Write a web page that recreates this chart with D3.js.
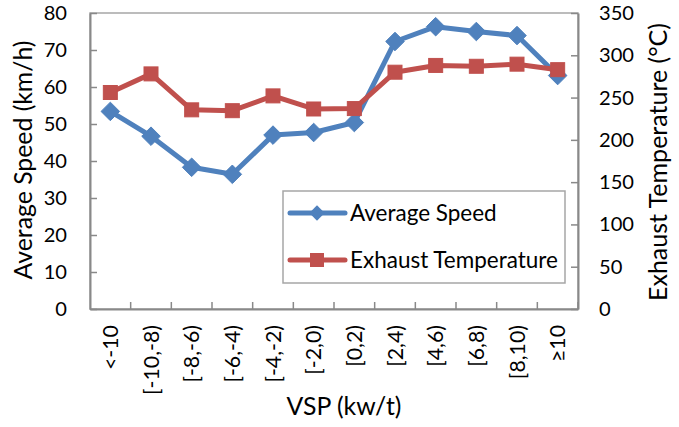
<!DOCTYPE html>
<html>
<head>
<meta charset="utf-8">
<script src="https://cdn.jsdelivr.net/npm/d3@7/dist/d3.min.js"></script>
<style>
  html, body { margin: 0; padding: 0; background: #ffffff; }
  svg { display: block; }
  text { font-family: Lato, "Open Sans", sans-serif; fill: #000; }
</style>
</head>
<body>
<svg id="chart" width="679" height="427"></svg>
<script>
// ---- data ----
const categories = ["<-10", "[-10,-8)", "[-8,-6)", "[-6,-4)", "[-4,-2)", "[-2,0)", "[0,2)", "[2,4)", "[4,6)", "[6,8)", "[8,10)", "≥10"];
const avgSpeed = [53.4, 46.7, 38.3, 36.4, 47.0, 47.7, 50.4, 72.3, 76.3, 75.0, 73.9, 63.1];
const exhaustTemp = [256, 278, 235.5, 234.5, 252, 236.5, 237, 280, 288, 287, 289.5, 283];
const leftTicks = [0, 10, 20, 30, 40, 50, 60, 70, 80];
const rightTicks = [0, 50, 100, 150, 200, 250, 300, 350];
const seriesNames = ["Average Speed", "Exhaust Temperature"];
const xTitle = "VSP (kw/t)";
const yLeftTitle = "Average Speed (km/h)";
const yRightTitle = "Exhaust Temperature (°C)";

// ---- layout ----
const W = 679, H = 427;
const plot = { left: 90, right: 578, top: 13, bottom: 309 };
const blue = "#4f81bd", red = "#c0504d";
const axisColor = "#898989", borderColor = "#a6a6a6";

const svg = d3.select("#chart");

// helper: font size so that sample text has given width
function fitSize(sample, target) {
  const t = svg.append("text").attr("font-size", 100).text(sample);
  const w = t.node().getComputedTextLength();
  t.remove();
  return 100 * target / w;
}
const tickSize = fitSize("350", 35);
const catSize = fitSize("[-10,-8)", 70);
const legendSize = fitSize("Exhaust Temperature", 208);
const titleSize = fitSize(yLeftTitle, 239);
const rTitleSize = fitSize(yRightTitle, 278);

const x = d3.scaleBand().domain(categories).range([plot.left, plot.right]);
const yL = d3.scaleLinear().domain([0, 80]).range([plot.bottom, plot.top]);
const yR = d3.scaleLinear().domain([0, 350]).range([plot.bottom, plot.top]);

// plot border
svg.append("rect")
  .attr("x", plot.left).attr("y", plot.top)
  .attr("width", plot.right - plot.left).attr("height", plot.bottom - plot.top)
  .attr("fill", "none").attr("stroke", borderColor).attr("stroke-width", 1.5);

// left axis
const gL = svg.append("g").attr("transform", `translate(${plot.left},0)`)
  .call(d3.axisLeft(yL).tickValues(leftTicks).tickSizeInner(-7).tickSizeOuter(0).tickPadding(23));
// right axis
const gR = svg.append("g").attr("transform", `translate(${plot.right},0)`)
  .call(d3.axisRight(yR).tickValues(rightTicks).tickSizeInner(-7).tickSizeOuter(0).tickPadding(21));
[gL, gR].forEach(g => {
  g.select(".domain").attr("stroke", axisColor).attr("stroke-width", 2);
  g.selectAll(".tick line").attr("stroke", axisColor).attr("stroke-width", 1.5);
  g.selectAll(".tick text").attr("font-size", tickSize).attr("font-family", "Lato").attr("fill", "#000");
});

// bottom axis: labels only (ticks at category boundaries)
const gB = svg.append("g").attr("transform", `translate(0,${plot.bottom})`)
  .call(d3.axisBottom(x).tickSize(0).tickPadding(0));
gB.select(".domain").attr("stroke", axisColor).attr("stroke-width", 2);
gB.selectAll(".tick text")
  .attr("font-size", catSize).attr("font-family", "Lato").attr("fill", "#000")
  .attr("transform", "rotate(-90)")
  .attr("text-anchor", "end")
  .attr("x", -16).attr("y", 0).attr("dy", "0.36em");
const boundaries = categories.slice(1).map(c => x(c)).concat([x.range()[1]]);
svg.append("g").selectAll("line").data(boundaries).join("line")
  .attr("x1", d => d).attr("x2", d => d)
  .attr("y1", plot.bottom).attr("y2", plot.bottom - 7)
  .attr("stroke", axisColor).attr("stroke-width", 1.5);

// lines
const cx = c => x(c) + x.bandwidth() / 2;
const lineL = d3.line().x((d, i) => cx(categories[i])).y(d => yL(d));
const lineR = d3.line().x((d, i) => cx(categories[i])).y(d => yR(d));

svg.append("path").datum(avgSpeed).attr("d", lineL)
  .attr("fill", "none").attr("stroke", blue).attr("stroke-width", 5).attr("stroke-linejoin", "round");
svg.append("g").selectAll("path").data(avgSpeed).join("path")
  .attr("d", d3.symbol(d3.symbolDiamond2, 220))
  .attr("transform", (d, i) => `translate(${cx(categories[i])},${yL(d)})`)
  .attr("fill", blue).attr("stroke", blue).attr("stroke-width", 1);

svg.append("path").datum(exhaustTemp).attr("d", lineR)
  .attr("fill", "none").attr("stroke", red).attr("stroke-width", 5).attr("stroke-linejoin", "round");
svg.append("g").selectAll("rect").data(exhaustTemp).join("rect")
  .attr("x", (d, i) => cx(categories[i]) - 7).attr("y", d => yR(d) - 7)
  .attr("width", 14).attr("height", 14)
  .attr("fill", red).attr("stroke", red).attr("stroke-width", 1);

// legend
const lg = svg.append("g");
lg.append("rect").attr("x", 283).attr("y", 191).attr("width", 282).attr("height", 92)
  .attr("fill", "#fff").attr("stroke", borderColor).attr("stroke-width", 1.5);
const rows = [{ name: seriesNames[0], color: blue, y: 213, shape: "diamond" },
              { name: seriesNames[1], color: red, y: 260, shape: "square" }];
rows.forEach(r => {
  lg.append("line").attr("x1", 290).attr("x2", 345).attr("y1", r.y).attr("y2", r.y)
    .attr("stroke", r.color).attr("stroke-width", 5).attr("stroke-linecap", "round");
  if (r.shape === "diamond") {
    lg.append("path").attr("d", d3.symbol(d3.symbolDiamond2, 150))
      .attr("transform", `translate(317,${r.y})`).attr("fill", r.color);
  } else {
    lg.append("rect").attr("x", 310).attr("y", r.y - 7).attr("width", 14).attr("height", 14).attr("fill", r.color);
  }
  lg.append("text").attr("x", 350).attr("y", r.y).attr("dy", "0.36em")
    .attr("font-size", legendSize).text(r.name);
});

// titles
svg.append("text").attr("transform", "translate(32,160) rotate(-90)")
  .attr("text-anchor", "middle").attr("font-size", titleSize).text(yLeftTitle);
svg.append("text").attr("transform", "translate(667,162) rotate(-90)")
  .attr("text-anchor", "middle").attr("font-size", rTitleSize).text(yRightTitle);
svg.append("text").attr("x", 344).attr("y", 415)
  .attr("text-anchor", "middle").attr("font-size", titleSize).text(xTitle);
</script>
</body>
</html>
